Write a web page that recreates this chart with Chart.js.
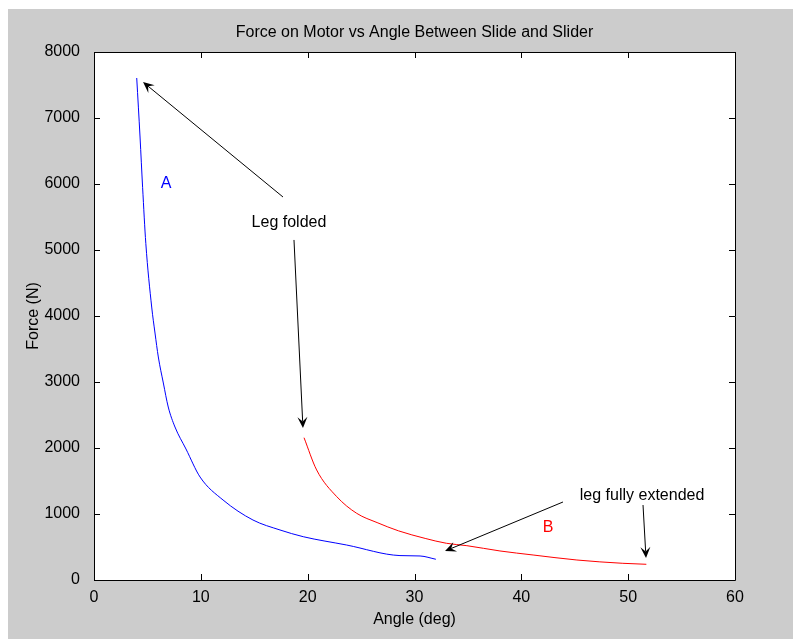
<!DOCTYPE html>
<html>
<head>
<meta charset="utf-8">
<script src="https://cdn.jsdelivr.net/npm/chart.js@4"></script>
<style>
  body { margin: 0; background: #fff; }
  #wrap { position: absolute; left: 8px; top: 9px; width: 785px; height: 630px; background: #cccccc; }
</style>
</head>
<body>
<div id="wrap"><canvas id="c" width="785" height="630"></canvas></div>
<script>
// curve A (blue)
const angleA = [4.0, 4.31, 4.55, 4.85, 5.4, 5.71, 6.02, 6.49, 6.95, 7.58, 8.61, 9.93, 12.08, 14.88, 17.41, 19.59, 23.65, 28.64, 30.52, 32.0];
const forceA = [7606, 6712, 5950, 5100, 4136, 3742, 3379, 2985, 2621, 2318, 1985, 1560, 1212, 909, 758, 656, 530, 370, 364, 314];

// curve B (red)
const angleB = [19.66, 20.84, 22.72, 24.59, 26.5, 28.5, 31.0, 33.0, 34.9, 38.0, 41.1, 45.2, 49.5, 51.7];
const forceB = [2156, 1667, 1263, 1010, 870, 745, 630, 556, 520, 440, 379, 303, 253, 238];

const xTicks = [0, 10, 20, 30, 40, 50, 60];
const yTicks = [0, 1000, 2000, 3000, 4000, 5000, 6000, 7000, 8000];

// annotations, in data units
const labels = [
  { text: 'A', x: 6.74, y: 6000, color: '#0000ff' },
  { text: 'B', x: 42.5, y: 788, color: '#ff0000' },
  { text: 'Leg folded', x: 18.25, y: 5409, color: '#000' },
  { text: 'leg fully extended', x: 51.3, y: 1273, color: '#000' }
];
const arrows = [
  { x1: 17.69, y1: 5803, x2: 4.59, y2: 7545 },
  { x1: 18.72, y1: 5152, x2: 19.56, y2: 2303 },
  { x1: 43.9, y1: 1182, x2: 32.86, y2: 439 },
  { x1: 51.39, y1: 1136, x2: 51.67, y2: 333 }
];

const FONT = 'Liberation Sans, Arial, sans-serif';

function toXY(arr, vals) {
  return arr.map((a, i) => ({ x: a, y: vals[i] }));
}

// white plot area, box and inner ticks like matlab
const boxPlugin = {
  id: 'box',
  beforeDraw(chart) {
    const a = chart.chartArea, ctx = chart.ctx;
    ctx.save();
    ctx.fillStyle = '#ffffff';
    ctx.fillRect(a.left, a.top, a.right - a.left, a.bottom - a.top);
    ctx.restore();
  },
  afterDraw(chart) {
    const a = chart.chartArea, ctx = chart.ctx;
    const sx = chart.scales.x, sy = chart.scales.y;
    const tl = 6;
    ctx.save();
    ctx.strokeStyle = '#000';
    ctx.lineWidth = 1;
    ctx.beginPath();
    ctx.rect(Math.round(a.left) + 0.5, Math.round(a.top) + 0.5, Math.round(a.right - a.left), Math.round(a.bottom - a.top));
    xTicks.forEach(v => {
      const px = Math.round(sx.getPixelForValue(v)) + 0.5;
      ctx.moveTo(px, a.bottom); ctx.lineTo(px, a.bottom - tl);
      ctx.moveTo(px, a.top); ctx.lineTo(px, a.top + tl);
    });
    yTicks.forEach(v => {
      const py = Math.round(sy.getPixelForValue(v)) + 0.5;
      ctx.moveTo(a.left, py); ctx.lineTo(a.left + tl, py);
      ctx.moveTo(a.right, py); ctx.lineTo(a.right - tl, py);
    });
    ctx.stroke();

    // title
    ctx.fillStyle = '#000';
    ctx.font = '16px ' + FONT;
    ctx.textAlign = 'center';
    ctx.textBaseline = 'middle';
    ctx.fillText('Force on Motor vs Angle Between Slide and Slider', (a.left + a.right) / 2, 24);
    ctx.restore();
  }
};

// arrows and text labels
const notePlugin = {
  id: 'notes',
  afterDatasetsDraw(chart) {
    const ctx = chart.ctx;
    const sx = chart.scales.x, sy = chart.scales.y;
    ctx.save();
    arrows.forEach(ar => {
      const x1 = sx.getPixelForValue(ar.x1), y1 = sy.getPixelForValue(ar.y1);
      const x2 = sx.getPixelForValue(ar.x2), y2 = sy.getPixelForValue(ar.y2);
      const ang = Math.atan2(y2 - y1, x2 - x1);
      const len = 11, half = 5;
      const bx = x2 - len * Math.cos(ang), by = y2 - len * Math.sin(ang);
      const nx = x2 - len * 0.6 * Math.cos(ang), ny = y2 - len * 0.6 * Math.sin(ang);
      ctx.strokeStyle = '#000';
      ctx.lineWidth = 1;
      ctx.beginPath();
      ctx.moveTo(x1, y1);
      ctx.lineTo(nx, ny);
      ctx.stroke();
      ctx.fillStyle = '#000';
      ctx.beginPath();
      ctx.moveTo(x2, y2);
      ctx.lineTo(bx + half * Math.sin(ang), by - half * Math.cos(ang));
      ctx.lineTo(nx, ny);
      ctx.lineTo(bx - half * Math.sin(ang), by + half * Math.cos(ang));
      ctx.closePath();
      ctx.fill();
    });
    ctx.font = '16px ' + FONT;
    ctx.textAlign = 'center';
    ctx.textBaseline = 'middle';
    labels.forEach(l => {
      ctx.fillStyle = l.color;
      ctx.fillText(l.text, sx.getPixelForValue(l.x), sy.getPixelForValue(l.y));
    });
    ctx.restore();
  }
};

new Chart(document.getElementById('c'), {
  type: 'line',
  data: {
    datasets: [
      { label: 'A', data: toXY(angleA, forceA), borderColor: '#0000ff', borderWidth: 1, pointRadius: 0, cubicInterpolationMode: 'monotone', fill: false },
      { label: 'B', data: toXY(angleB, forceB), borderColor: '#ff0000', borderWidth: 1, pointRadius: 0, cubicInterpolationMode: 'monotone', fill: false }
    ]
  },
  options: {
    responsive: false,
    animation: false,
    devicePixelRatio: 1,
    layout: { padding: { left: 0, top: 43, right: 58, bottom: 0 } },
    plugins: { legend: { display: false }, tooltip: { enabled: false }, title: { display: false } },
    scales: {
      x: {
        type: 'linear', min: 0, max: 60,
        afterBuildTicks: s => { s.ticks = xTicks.map(v => ({ value: v })); },
        afterFit: s => { s.height = 59; },
        grid: { display: false },
        border: { display: false },
        ticks: { color: '#000', padding: 0, font: { family: FONT, size: 16 }, callback: v => String(v) },
        title: { display: true, text: 'Angle (deg)', color: '#000', padding: { top: 0, bottom: 10 }, font: { family: FONT, size: 16 } }
      },
      y: {
        type: 'linear', min: 0, max: 8000,
        afterBuildTicks: s => { s.ticks = yTicks.map(v => ({ value: v })); },
        afterFit: s => { s.width = 86; },
        grid: { display: false },
        border: { display: false },
        ticks: { color: '#000', padding: 6, font: { family: FONT, size: 16 }, callback: v => String(v) },
        title: { display: true, text: 'Force (N)', color: '#000', padding: { top: 16, bottom: 0 }, font: { family: FONT, size: 16 } }
      }
    }
  },
  plugins: [boxPlugin, notePlugin]
});
</script>
</body>
</html>
